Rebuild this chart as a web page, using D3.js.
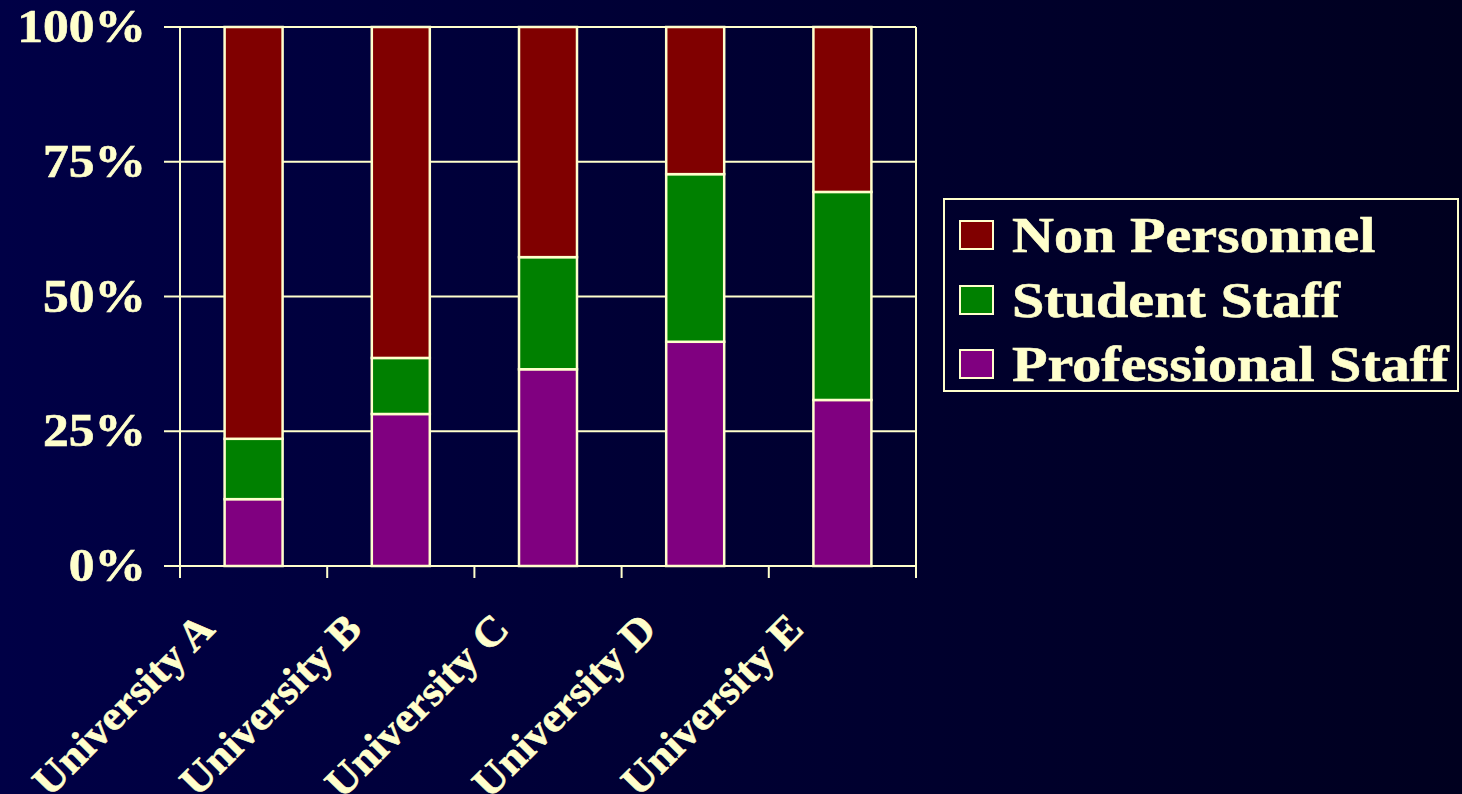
<!DOCTYPE html>
<html>
<head>
<meta charset="utf-8">
<script src="https://cdn.jsdelivr.net/npm/d3@7"></script>
<style>
  html, body { margin: 0; padding: 0; background: #000033; }
  svg { display: block; }
  text { font-family: "Liberation Serif", "Times New Roman", serif; font-weight: bold; fill: #FFFFCC; }
</style>
</head>
<body>
<svg id="chart" width="1462" height="794"></svg>
<script>
// ---- data ----
const categories = ["University A", "University B", "University C", "University D", "University E"];
const seriesNames = ["Professional Staff", "Student Staff", "Non Personnel"];
const professionalStaff = [12.4, 28.2, 36.5, 41.6, 30.8];
const studentStaff = [11.2, 10.4, 20.8, 31.1, 38.6];
const nonPersonnel = [76.4, 61.4, 42.7, 27.3, 30.6];
const yTicks = [0, 25, 50, 75, 100];
const yTickLabels = ["0%", "25%", "50%", "75%", "100%"];
const legendOrder = ["Non Personnel", "Student Staff", "Professional Staff"];

// ---- setup ----
const colors = { "Professional Staff": "#800080", "Student Staff": "#008000", "Non Personnel": "#800000" };
const cream = "#FFFFCC";

const svg = d3.select("#chart");
const W = 1462, H = 794;

const defs = svg.append("defs");
const grad = defs.append("linearGradient").attr("id", "bg").attr("x1", "0").attr("y1", "0").attr("x2", "1").attr("y2", "0");
grad.append("stop").attr("offset", "0%").attr("stop-color", "#000046");
grad.append("stop").attr("offset", "100%").attr("stop-color", "#00001f");
svg.append("rect").attr("width", W).attr("height", H).attr("fill", "url(#bg)");

const plot = { left: 180, right: 916, top: 27, bottom: 566 };

const x = d3.scaleBand().domain(categories).range([plot.left, plot.right]).paddingInner(0).paddingOuter(0);
const y = d3.scaleLinear().domain([0, 100]).range([plot.bottom, plot.top]);

const rows = categories.map((c, i) => ({
  category: c,
  "Professional Staff": professionalStaff[i],
  "Student Staff": studentStaff[i],
  "Non Personnel": nonPersonnel[i]
}));
const stacked = d3.stack().keys(seriesNames)(rows);

function stretchText(sel, factor) {
  sel.each(function() {
    const len = this.getComputedTextLength();
    d3.select(this).attr("textLength", len * factor).attr("lengthAdjust", "spacingAndGlyphs");
  });
}

// gridlines + y ticks
const g = svg.append("g");
g.selectAll("line.grid").data(yTicks).join("line")
  .attr("x1", plot.left - 16).attr("x2", plot.right)
  .attr("y1", d => y(d)).attr("y2", d => y(d))
  .attr("stroke", cream).attr("stroke-width", 2);

// y labels
const ylabs = g.selectAll("text.ylab").data(yTicks).join("text")
  .attr("class", "ylab")
  .attr("x", 146).attr("y", d => y(d) + 15)
  .attr("text-anchor", "end")
  .attr("font-size", 46)
  .attr("stroke", cream).attr("stroke-width", 0.6)
  .text((d, i) => yTickLabels[i]);
stretchText(ylabs, 1.12);

// bars
const barW = x.bandwidth() * 0.394;
svg.append("g").selectAll("g").data(stacked).join("g")
  .attr("fill", d => colors[d.key])
  .selectAll("rect").data(d => d).join("rect")
  .attr("x", d => x(d.data.category) + (x.bandwidth() - barW) / 2)
  .attr("width", barW)
  .attr("y", d => y(d[1]))
  .attr("height", d => y(d[0]) - y(d[1]))
  .attr("stroke", cream).attr("stroke-width", 2.5);

// axes lines
svg.append("line").attr("x1", plot.left).attr("x2", plot.left).attr("y1", plot.top).attr("y2", plot.bottom + 12)
  .attr("stroke", cream).attr("stroke-width", 2);
svg.append("line").attr("x1", plot.right).attr("x2", plot.right).attr("y1", plot.top).attr("y2", plot.bottom + 12)
  .attr("stroke", cream).attr("stroke-width", 2);
svg.append("line").attr("x1", plot.left - 16).attr("x2", plot.right).attr("y1", plot.bottom).attr("y2", plot.bottom)
  .attr("stroke", cream).attr("stroke-width", 2);
const edges = categories.map(c => x(c)).concat([plot.right]);
svg.append("g").selectAll("line").data(edges).join("line")
  .attr("x1", d => d).attr("x2", d => d)
  .attr("y1", plot.bottom).attr("y2", plot.bottom + 12)
  .attr("stroke", cream).attr("stroke-width", 2);

// x labels
const xlabs = svg.append("g").selectAll("text").data(categories).join("text")
  .attr("class", "xlab")
  .attr("transform", d => `translate(${x(d) + x.bandwidth() / 2 - 37},631) rotate(-45)`)
  .attr("text-anchor", "end")
  .attr("font-size", 42)
  .attr("stroke", cream).attr("stroke-width", 0.6)
  .text(d => d);
stretchText(xlabs, 1.05);

// legend
const lg = svg.append("g");
lg.append("rect").attr("x", 944).attr("y", 199).attr("width", 514).attr("height", 192)
  .attr("fill", "none").attr("stroke", cream).attr("stroke-width", 2);
const rowY = [235, 300, 364];
lg.selectAll("rect.sw").data(legendOrder).join("rect")
  .attr("class", "sw")
  .attr("x", 960).attr("y", (d, i) => rowY[i] - 14)
  .attr("width", 33).attr("height", 28)
  .attr("fill", d => colors[d]).attr("stroke", cream).attr("stroke-width", 2);
const ltexts = lg.selectAll("text").data(legendOrder).join("text")
  .attr("x", 1012).attr("y", (d, i) => rowY[i] + 17)
  .attr("font-size", 51)
  .attr("stroke", cream).attr("stroke-width", 0.6)
  .text(d => d);
stretchText(ltexts, 1.14);
</script>
</body>
</html>
